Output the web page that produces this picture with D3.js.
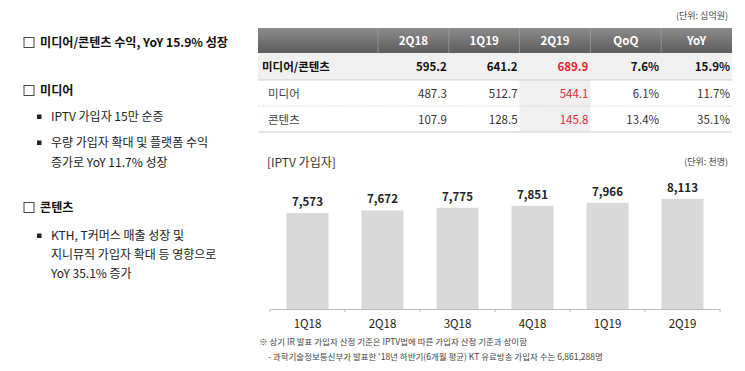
<!DOCTYPE html>
<html>
<head>
<meta charset="utf-8">
<script src="https://cdn.jsdelivr.net/npm/d3@7"></script>
<style>
  body { margin: 0; background: #fff; }
  svg { font-family: "Noto Sans CJK KR", "Noto Sans", sans-serif; }
</style>
</head>
<body>
<div id="chart"></div>
<script>
// table data (단위: 십억원)
var tableCols = ['2Q18', '1Q19', '2Q19', 'QoQ', 'YoY']
var tableRows = ['미디어/콘텐츠', '미디어', '콘텐츠']
var tableVals = [
  ['595.2', '641.2', '689.9', '7.6%', '15.9%'],
  ['487.3', '512.7', '544.1', '6.1%', '11.7%'],
  ['107.9', '128.5', '145.8', '13.4%', '35.1%']
]

// IPTV subscribers (단위: 천명)
var quarters = ['1Q18', '2Q18', '3Q18', '4Q18', '1Q19', '2Q19']
var subscribers = [7573, 7672, 7775, 7851, 7966, 8113]

var leftLines = [
  {type: 'head', text: '미디어/콘텐츠 수익, YoY 15.9% 성장', y: 43},
  {type: 'head', text: '미디어', y: 91},
  {type: 'bullet', text: 'IPTV 가입자 15만 순증', y: 117},
  {type: 'bullet', text: '우량 가입자 확대 및 플랫폼 수익', y: 143},
  {type: 'cont', text: '증가로 YoY 11.7% 성장', y: 163},
  {type: 'head', text: '콘텐츠', y: 208},
  {type: 'bullet', text: 'KTH, T커머스 매출 성장 및', y: 236},
  {type: 'cont', text: '지니뮤직 가입자 확대 등 영향으로', y: 255},
  {type: 'cont', text: 'YoY 35.1% 증가', y: 274}
]

var width = 745, height = 371
var red = '#e3262e'

var svg = d3.select('#chart').append('svg')
  .attr('width', width)
  .attr('height', height)

var defs = svg.append('defs')
var grad = defs.append('linearGradient')
  .attr('id', 'hdr').attr('x1', 0).attr('y1', 0).attr('x2', 0).attr('y2', 1)
grad.append('stop').attr('offset', '0%').attr('stop-color', '#8c8c8c')
grad.append('stop').attr('offset', '100%').attr('stop-color', '#5c5c5c')

// Left side text
var left = svg.append('g')
leftLines.forEach(function(d) {
  if (d.type === 'head') {
    left.append('rect')
      .attr('x', 24).attr('y', d.y - 5.5)
      .attr('width', 10).attr('height', 10)
      .attr('fill', 'none').attr('stroke', '#333').attr('stroke-width', 0.9)
    left.append('text')
      .attr('x', 40).attr('y', d.y).attr('dy', '0.35em')
      .attr('font-size', 12.1).attr('font-weight', 'bold').attr('fill', '#111')
      .text(d.text)
  } else {
    if (d.type === 'bullet') {
      left.append('rect')
        .attr('x', 37).attr('y', d.y - 2.5)
        .attr('width', 4.5).attr('height', 4.5)
        .attr('fill', '#222')
    }
    left.append('text')
      .attr('x', 51).attr('y', d.y).attr('dy', '0.35em')
      .attr('font-size', 12).attr('fill', '#222')
      .text(d.text)
  }
})

// Table
var tx0 = 258, tx1 = 732
var labelW = 120
var colX = d3.scaleBand().domain(tableCols).range([tx0 + labelW, tx1])
var rowTop = [53, 80, 106]
var rowH = 26

var tbl = svg.append('g')
tbl.append('text')
  .attr('x', 728).attr('y', 16).attr('dy', '0.35em')
  .attr('text-anchor', 'end').attr('font-size', 9).attr('fill', '#444')
  .text('(단위: 십억원)')

tbl.append('rect')
  .attr('x', tx0).attr('y', 28).attr('width', tx1 - tx0).attr('height', 25)
  .attr('fill', 'url(#hdr)')
tableCols.forEach(function(c, i) {
  tbl.append('line')
    .attr('x1', colX(c)).attr('x2', colX(c)).attr('y1', 28).attr('y2', 53)
    .attr('stroke', '#9a9a9a').attr('stroke-width', 0.8)
  tbl.append('text')
    .attr('x', colX(c) + colX.bandwidth() / 2).attr('y', 41).attr('dy', '0.35em')
    .attr('text-anchor', 'middle').attr('font-size', 11.5).attr('font-weight', 'bold')
    .attr('fill', '#fff').text(c)
})

// first row background and highlight column
tbl.append('rect')
  .attr('x', tx0).attr('y', rowTop[0]).attr('width', tx1 - tx0).attr('height', rowH + 1)
  .attr('fill', '#f0f0f0')
tbl.append('rect')
  .attr('x', colX('2Q19')).attr('y', rowTop[1]).attr('width', colX.bandwidth()).attr('height', 52)
  .attr('fill', '#f0f0f0')

tbl.append('line')
  .attr('x1', tx0).attr('x2', tx1).attr('y1', 80).attr('y2', 80)
  .attr('stroke', '#cfcfcf').attr('stroke-width', 1)
tbl.append('line')
  .attr('x1', tx0).attr('x2', tx1).attr('y1', 106).attr('y2', 106)
  .attr('stroke', '#bbb').attr('stroke-width', 0.8).attr('stroke-dasharray', '1,1.5')
tbl.append('line')
  .attr('x1', tx0).attr('x2', tx1).attr('y1', 132).attr('y2', 132)
  .attr('stroke', '#cfcfcf').attr('stroke-width', 1)

tableRows.forEach(function(r, i) {
  var cy = rowTop[i] + rowH / 2 + 0.5
  var bold = i === 0
  tbl.append('text')
    .attr('x', bold ? 262 : 268).attr('y', cy).attr('dy', '0.35em')
    .attr('font-size', 11.5).attr('font-weight', bold ? 'bold' : 'normal')
    .attr('fill', bold ? '#111' : '#444').text(r)
  tableVals[i].forEach(function(v, j) {
    var c = tableCols[j]
    tbl.append('text')
      .attr('x', colX(c) + colX.bandwidth() - 2).attr('y', cy).attr('dy', '0.35em')
      .attr('text-anchor', 'end').attr('font-size', 11.5)
      .attr('font-weight', bold ? 'bold' : 'normal')
      .attr('fill', c === '2Q19' ? red : (bold ? '#111' : '#333'))
      .text(v)
  })
})

// Bar chart
var chart = svg.append('g')
chart.append('text')
  .attr('x', 267).attr('y', 163).attr('dy', '0.35em')
  .attr('font-size', 12).attr('fill', '#333').text('[IPTV 가입자]')
chart.append('text')
  .attr('x', 728).attr('y', 162).attr('dy', '0.35em')
  .attr('text-anchor', 'end').attr('font-size', 9).attr('fill', '#444')
  .text('(단위: 천명)')

var x = d3.scaleBand().domain(quarters).range([270, 720]).paddingInner(0.44).paddingOuter(0.22)
var y = d3.scaleLinear().domain([3870, 8113]).range([309, 199])

chart.selectAll('.bar')
  .data(subscribers)
  .enter().append('rect')
    .attr('class', 'bar')
    .attr('x', function(d, i) { return x(quarters[i]) })
    .attr('y', function(d) { return y(d) })
    .attr('width', x.bandwidth())
    .attr('height', function(d) { return y.range()[0] - y(d) })
    .attr('fill', '#d9d9d9')

chart.selectAll('.val')
  .data(subscribers)
  .enter().append('text')
    .attr('class', 'val')
    .attr('x', function(d, i) { return x(quarters[i]) + x.bandwidth() / 2 })
    .attr('y', function(d) { return y(d) - 11 })
    .attr('dy', '0.35em')
    .attr('text-anchor', 'middle').attr('font-size', 11.5).attr('font-weight', 'bold')
    .attr('fill', '#222')
    .text(d3.format(','))

// axis
var xAxis = d3.axisBottom(x).tickSize(0).tickPadding(11)
var ax = chart.append('g')
  .attr('transform', 'translate(0,309)')
  .call(xAxis)
ax.select('.domain').attr('stroke', '#bbb')
ax.selectAll('.tick text')
  .attr('font-size', 11.5).attr('fill', '#222')
  .attr('font-family', '"Noto Sans CJK KR", sans-serif')
d3.range(quarters.length + 1).forEach(function(i) {
  var px = 270 + i * (450 / quarters.length)
  ax.append('line')
    .attr('x1', px).attr('x2', px).attr('y1', 0).attr('y2', 3)
    .attr('stroke', '#bbb')
})

// footnotes
chart.append('text')
  .attr('x', 259).attr('y', 342).attr('dy', '0.35em')
  .attr('font-size', 8.5).attr('fill', '#444')
  .text('※ 상기 IR 발표 가입자 산정 기준은 IPTV법에 따른 가입자 산정 기준과 상이함')
chart.append('text')
  .attr('x', 268).attr('y', 357).attr('dy', '0.35em')
  .attr('font-size', 8.5).attr('fill', '#444')
  .text('- 과학기술정보통신부가 발표한 \u201818년 하반기(6개월 평균) KT 유료방송 가입자 수는 6,861,288명')
</script>
</body>
</html>
